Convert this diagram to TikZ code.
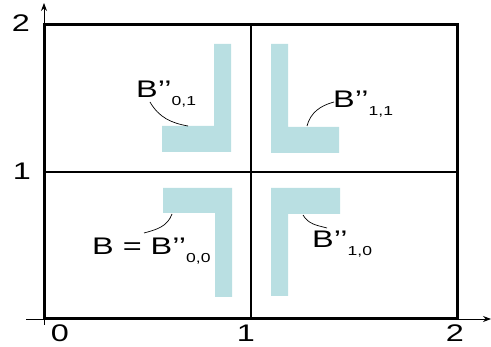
\documentclass[tikz,border=0pt]{standalone}
\usepackage{fontspec}
\setmainfont{Liberation Sans}
\usepackage{xcolor}
\usetikzlibrary{arrows.meta}
\definecolor{blockblue}{HTML}{B9DFE2}
\newcommand{\widetxt}[1]{\scalebox{1.35}[1]{#1}}
\newcommand{\subidx}[1]{\raisebox{-8pt}{\fontsize{13}{13}\selectfont #1}}

\begin{document}
\begin{tikzpicture}[x=1pt,y=-1pt,
  lbl/.style={inner sep=0pt, font=\fontsize{24}{24}\selectfont},
  block/.style={fill=blockblue, draw=none},
  leader/.style={line width=0.7pt}]
\useasboundingbox (0,0) rectangle (491,347);

\fill[block] (214,44) -- (231,44) -- (231,152) -- (162,152) -- (162,126) -- (214,126) -- cycle;
\fill[block] (271,44) -- (288,44) -- (288,127) -- (339,127) -- (339,153) -- (271,153) -- cycle;
\fill[block] (163,188) -- (232,188) -- (232,297) -- (215,297) -- (215,213) -- (163,213) -- cycle;
\fill[block] (271,188) -- (340,188) -- (340,214) -- (288,214) -- (288,296) -- (271,296) -- cycle;

\draw[line width=1.3pt] (251,25) -- (251,319);
\draw[line width=1.3pt] (44,172) -- (457,172);
\draw[line width=3pt] (44,25) rectangle (457,319);
\draw[line width=0.8pt, -{Stealth[length=8pt,width=6pt]}] (44,325) -- (44,3);
\draw[line width=0.8pt, -{Stealth[length=8pt,width=6pt]}] (26,319) -- (491,319);

\node[lbl, anchor=base] (ytwo) at (21,32) {\widetxt{2}};
\node[lbl, anchor=base] (yone) at (22,180) {\widetxt{1}};
\node[lbl, anchor=base] (xzero) at (60,342) {\widetxt{0}};
\node[lbl, anchor=base] (xone) at (246,342) {\widetxt{1}};
\node[lbl, anchor=base] (xtwo) at (455,342) {\widetxt{2}};

\node[lbl, anchor=base west] (bzeroone) at (136,98) {\widetxt{B’’\subidx{0,1}}};
\node[lbl, anchor=base west] (boneone) at (333,108) {\widetxt{B’’\subidx{1,1}}};
\node[lbl, anchor=base west] (bzerozero) at (92,255) {\widetxt{B = B’’\subidx{0,0}}};
\node[lbl, anchor=base west] (bonezero) at (312,248) {\widetxt{B’’\subidx{1,0}}};

\coordinate (startzeroone) at (150,102);
\coordinate (startoneone) at (334,102);
\coordinate (startzerozero) at (144,233);
\coordinate (startonezero) at (327,228);
\coordinate (tipzeroone) at (188,126);
\coordinate (tiponeone) at (307,126);
\coordinate (tipzerozero) at (172,214);
\coordinate (tiponezero) at (303,215);

\draw[leader] (startzeroone) to[out=-60,in=170] (tipzeroone);
\draw[leader] (startoneone) to[out=195,in=75] (tiponeone);
\draw[leader] (startzerozero) to[out=15,in=-110] (tipzerozero);
\draw[leader] (tiponezero) to[out=-60,in=165] (startonezero);
\end{tikzpicture}
\end{document}
